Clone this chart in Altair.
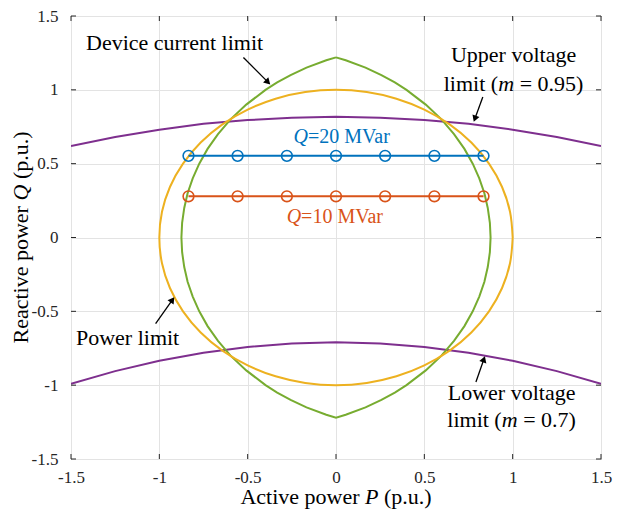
import altair as alt
import pandas as pd

# ---------------- data ----------------
ticks = [-1.5, -1.0, -0.5, 0.0, 0.5, 1.0, 1.5]

# Power limit (orange)
pl_P = [1.0, 0.985, 0.94, 0.866, 0.766, 0.643, 0.5, 0.342, 0.174, 0.0, -0.174, -0.342, -0.5, -0.643,
        -0.766, -0.866, -0.94, -0.985, -1.0, -0.985, -0.94, -0.866, -0.766, -0.643, -0.5, -0.342,
        -0.174, 0.0, 0.174, 0.342, 0.5, 0.643, 0.766, 0.866, 0.94, 0.985, 1.0]
pl_Q = [0.0, 0.174, 0.342, 0.5, 0.643, 0.766, 0.866, 0.94, 0.985, 1.0, 0.985, 0.94, 0.866, 0.766,
        0.643, 0.5, 0.342, 0.174, 0.0, -0.174, -0.342, -0.5, -0.643, -0.766, -0.866, -0.94,
        -0.985, -1.0, -0.985, -0.94, -0.866, -0.766, -0.643, -0.5, -0.342, -0.174, 0.0]

# Device current limit (green)
dc_P = [0.0, 0.055, 0.167, 0.257, 0.333, 0.399, 0.508, 0.597, 0.668, 0.727, 0.774, 0.811, 0.84,
        0.859, 0.871, 0.875, 0.871, 0.859, 0.84, 0.811, 0.774, 0.727, 0.668, 0.597, 0.508, 0.399,
        0.333, 0.257, 0.167, 0.055, 0.0,
        -0.055, -0.167, -0.257, -0.333, -0.399, -0.508, -0.597, -0.668, -0.727, -0.774, -0.811,
        -0.84, -0.859, -0.871, -0.875, -0.871, -0.859, -0.84, -0.811, -0.774, -0.727, -0.668,
        -0.597, -0.508, -0.399, -0.333, -0.257, -0.167, -0.055, 0.0]
dc_Q = [1.22, 1.2, 1.15, 1.1, 1.05, 1.0, 0.9, 0.8, 0.7, 0.6, 0.5, 0.4, 0.3, 0.2, 0.1, 0.0, -0.1,
        -0.2, -0.3, -0.4, -0.5, -0.6, -0.7, -0.8, -0.9, -1.0, -1.05, -1.1, -1.15, -1.2, -1.22,
        -1.2, -1.15, -1.1, -1.05, -1.0, -0.9, -0.8, -0.7, -0.6, -0.5, -0.4, -0.3, -0.2, -0.1,
        0.0, 0.1, 0.2, 0.3, 0.4, 0.5, 0.6, 0.7, 0.8, 0.9, 1.0, 1.05, 1.1, 1.15, 1.2, 1.22]

# Voltage limits (purple)
v_P = [-1.5, -1.25, -1.0, -0.75, -0.5, -0.25, 0.0, 0.25, 0.5, 0.75, 1.0, 1.25, 1.5]
uv_Q = [0.62, 0.68, 0.73, 0.77, 0.795, 0.811, 0.817, 0.811, 0.795, 0.77, 0.73, 0.68, 0.62]
lv_Q = [-0.99, -0.905, -0.835, -0.78, -0.741, -0.718, -0.71, -0.718, -0.741, -0.78, -0.835, -0.905, -0.99]

# Operating points
op_P = [-0.835, -0.557, -0.278, 0.0, 0.278, 0.557, 0.835]
q20_Q = [0.553] * 7
q10_Q = [0.279] * 7

# Arrows (start, head)
ar_P0 = [-0.524, 0.831, -1.021, 0.792]
ar_Q0 = [1.219, 0.951, -0.583, -0.978]
ar_P1 = [-0.385, 0.786, -0.926, 0.837]
ar_Q1 = [1.052, 0.804, -0.422, -0.824]
ar_ang = [135, 200, 35, 19]

# ---------------- styling ----------------
FONT = "Liberation Serif"
W, H = 530, 443
BLUE, RED, ORANGE, PURPLE, GREEN = "#0072BD", "#D95319", "#EDB120", "#7E2F8E", "#77AC30"
AX = "#262626"

xs = alt.Scale(domain=[-1.5, 1.5], nice=False, zero=False)
ys = alt.Scale(domain=[-1.5, 1.5], nice=False, zero=False)
xa = alt.Axis(values=ticks, title=None, labelExpr="'' + datum.value", labelPadding=10,
              labelFlush=False, labelOverlap=False)
ya = alt.Axis(values=ticks, title=None, labelExpr="'' + datum.value", labelPadding=13,
              labelFlush=False, labelOverlap=False)


def X(f="P"):
    return alt.X(f"{f}:Q", scale=xs, axis=xa)


def Y(f="Q"):
    return alt.Y(f"{f}:Q", scale=ys, axis=ya)


def curve(P, Q, color, width=2, interp="linear"):
    df = pd.DataFrame({"P": P, "Q": Q, "i": list(range(len(P)))})
    return alt.Chart(df).mark_line(color=color, strokeWidth=width, clip=True,
                                   interpolate=interp).encode(
        x=X(), y=Y(), order=alt.Order("i:Q"))


def points(P, Q, color):
    df = pd.DataFrame({"P": P, "Q": Q})
    return alt.Chart(df).mark_point(shape="circle", filled=False, size=115, strokeWidth=1.6,
                                    color=color, opacity=1).encode(x=X(), y=Y())


def label(p, q, s, color="black", size=22, italic=False, dx=0, align="left"):
    df = pd.DataFrame({"P": [p], "Q": [q], "t": [s]})
    kw = dict(font=FONT, fontSize=size, color=color, align=align, baseline="alphabetic", dx=dx)
    if italic:
        kw["fontStyle"] = "italic"
    return alt.Chart(df).mark_text(**kw).encode(x=X(), y=Y(), text="t:N")


def ptext(xp, yp, s, italic=False, angle=0, size=22):
    df = pd.DataFrame({"t": [s]})
    kw = dict(font=FONT, fontSize=size, color="black", align="left", baseline="alphabetic")
    if italic:
        kw["fontStyle"] = "italic"
    if angle:
        kw["angle"] = angle
    return alt.Chart(df).mark_text(**kw).encode(x=alt.value(xp), y=alt.value(yp), text="t:N")


layers = []

# curves
layers.append(curve(v_P, uv_Q, PURPLE))
layers.append(curve(v_P, lv_Q, PURPLE))
layers.append(curve(dc_P, dc_Q, GREEN))
layers.append(curve(pl_P, pl_Q, ORANGE, interp="cardinal"))
layers.append(curve(op_P, q20_Q, BLUE))
layers.append(points(op_P, q20_Q, BLUE))
layers.append(curve(op_P, q10_Q, RED))
layers.append(points(op_P, q10_Q, RED))

# arrows
adf = pd.DataFrame({"P": ar_P0, "Q": ar_Q0, "P1": ar_P1, "Q1": ar_Q1, "a": ar_ang})
layers.append(alt.Chart(adf).mark_rule(color="black", strokeWidth=1.3).encode(
    x=X(), y=Y(), x2="P1:Q", y2="Q1:Q"))
hdf = pd.DataFrame({"P": ar_P1, "Q": ar_Q1, "a": ar_ang})
layers.append(alt.Chart(hdf).mark_point(shape="triangle-up", filled=True, size=55, color="black",
                                        opacity=1).encode(
    x=X(), y=Y(), angle=alt.Angle("a:Q", scale=None)))

# annotations
layers.append(label(-1.415, 1.268, "Device current limit"))
layers.append(label(1.005, 1.186, "Upper voltage", align="center"))
layers.append(label(1.005, 0.991, "limit (", dx=-69.8))
layers.append(label(1.005, 0.991, "m", italic=True, dx=-15.4))
layers.append(label(1.005, 0.991, "= 0.95)", dx=6.1))
layers.append(label(-1.472, -0.730, "Power limit"))
layers.append(label(0.994, -1.098, "Lower voltage", align="center"))
layers.append(label(0.994, -1.286, "limit (", dx=-64.3))
layers.append(label(0.994, -1.286, "m", italic=True, dx=-9.9))
layers.append(label(0.994, -1.286, "= 0.7)", dx=11.6))
layers.append(label(-0.24, 0.643, "Q", color=BLUE, size=20, italic=True))
layers.append(label(-0.24, 0.643, "=20 MVar", color=BLUE, size=20, dx=14.4))
layers.append(label(-0.279, 0.100, "Q", color=RED, size=20, italic=True))
layers.append(label(-0.279, 0.100, "=10 MVar", color=RED, size=20, dx=14.4))

# axis titles (mixed italic)
cx = W / 2
TY = 488
layers.append(ptext(cx - 95.6, TY, "Active power"))
layers.append(ptext(cx + 29.0, TY, "P", italic=True))
layers.append(ptext(cx + 47.9, TY, "(p.u.)"))
TX = -43
layers.append(ptext(TX, 327.5, "Reactive power", angle=270))
layers.append(ptext(TX, 184.5, "Q", italic=True, angle=270))
layers.append(ptext(TX, 163.1, "(p.u.)", angle=270))

# inward ticks on all four sides
tdf = pd.DataFrame({"P": ticks, "Q": ticks})
TL = 5
layers.append(alt.Chart(tdf).mark_rule(color=AX, strokeWidth=1).encode(
    x=X(), y=alt.value(H), y2=alt.value(H - TL)))
layers.append(alt.Chart(tdf).mark_rule(color=AX, strokeWidth=1).encode(
    x=X(), y=alt.value(0), y2=alt.value(TL)))
layers.append(alt.Chart(tdf).mark_rule(color=AX, strokeWidth=1).encode(
    y=Y(), x=alt.value(0), x2=alt.value(TL)))
layers.append(alt.Chart(tdf).mark_rule(color=AX, strokeWidth=1).encode(
    y=Y(), x=alt.value(W), x2=alt.value(W - TL)))

chart = alt.layer(*layers).properties(
    width=W, height=H,
    padding={"left": 63, "top": 8, "right": 12, "bottom": 54},
    autosize=alt.AutoSizeParams(type="none"),
    background="white",
).configure_view(
    stroke=AX, strokeWidth=1
).configure_axis(
    grid=True, gridColor="#e3e3e3", gridWidth=1, domain=False, ticks=False,
    labelFont=FONT, labelFontSize=17, labelColor=AX,
)

chart.save("out.html", embed_options={"renderer": "svg", "actions": False})
